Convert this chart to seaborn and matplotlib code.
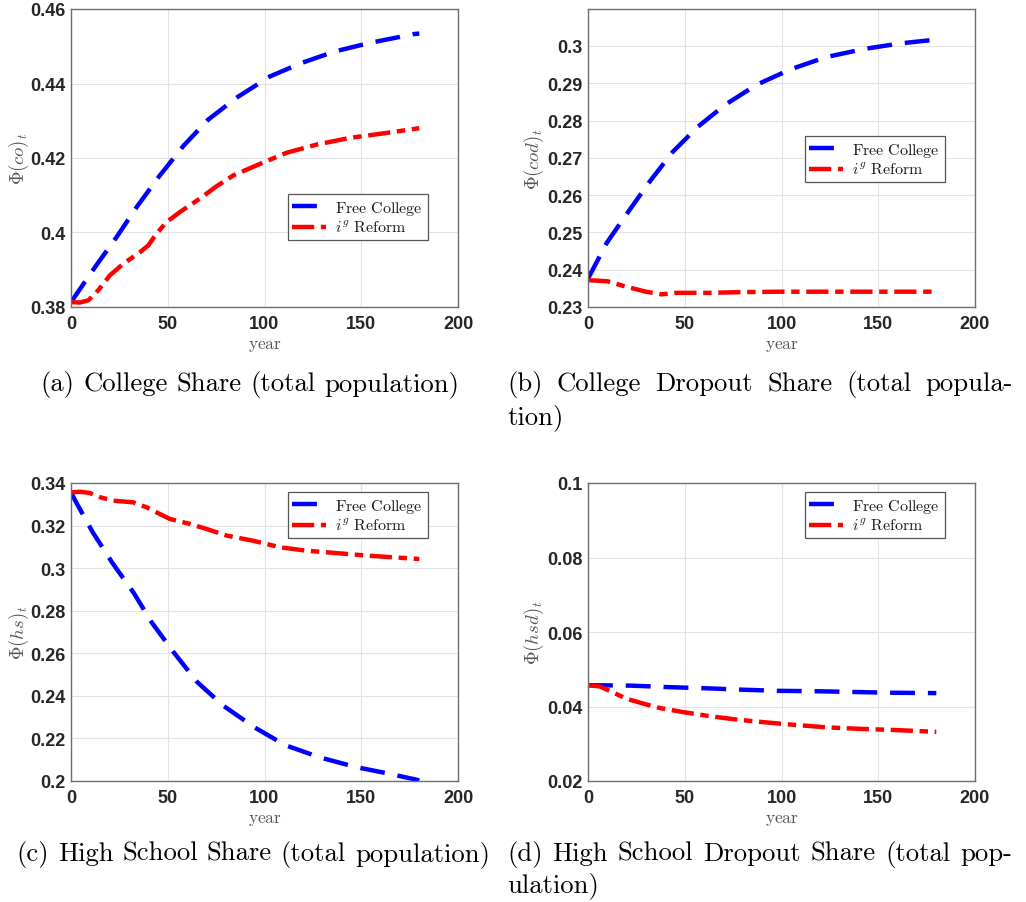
import numpy as np
import pandas as pd
import matplotlib
matplotlib.use("Agg")
import matplotlib.pyplot as plt
import seaborn as sns

# ---------------- data ----------------
# (a) College share
yr_a_fc = [0, 12.4, 23.6, 34.3, 45.6, 58, 70.9, 85.9, 102.8, 119.1, 136.3, 154.4, 177.6, 180]
co_fc = [0.3813, 0.3907, 0.3988, 0.4071, 0.4151, 0.4232, 0.4303, 0.4363, 0.4419, 0.4455, 0.4486, 0.4509, 0.4533, 0.4534]
yr_a_ig = [0, 4.6, 9, 14.1, 20.1, 27, 35.6, 39.9, 44.2, 49.4, 56.3, 66.6, 75.2, 83.8, 97.6, 111.4, 126.9, 144.1, 161.3, 180]
co_ig = [0.3813, 0.3812, 0.3818, 0.3845, 0.3885, 0.3916, 0.3947, 0.3965, 0.3997, 0.4028, 0.4055, 0.4091, 0.4124, 0.4153, 0.4184, 0.4214, 0.4236, 0.4254, 0.4266, 0.4280]

# (b) College dropout share
yr_b_fc = [0, 9.7, 20.5, 31.7, 43.8, 56.7, 71.1, 87.2, 104.5, 123, 142.8, 161.7, 180]
cod_fc = [0.2376, 0.2472, 0.2553, 0.2635, 0.2716, 0.2783, 0.2843, 0.2896, 0.2937, 0.2970, 0.2992, 0.3007, 0.3017]
yr_b_ig = [0, 10, 20, 30, 38, 46, 63, 80, 100, 130, 160, 180]
cod_ig = [0.2372, 0.2369, 0.2354, 0.2341, 0.2334, 0.2338, 0.2338, 0.2340, 0.2341, 0.2341, 0.2341, 0.2341]

# (c) High school share
yr_c_fc = [0, 2.2, 11.2, 21.5, 32.4, 41.7, 53.2, 65.2, 78.8, 95, 110.8, 128.9, 147, 165.6, 180]
hs_fc = [0.3356, 0.3317, 0.3169, 0.3023, 0.2884, 0.2745, 0.2603, 0.2465, 0.2353, 0.2251, 0.2168, 0.2110, 0.2066, 0.2032, 0.2003]
yr_c_ig = [0, 4.6, 9.8, 15, 21.9, 32.2, 39, 44.2, 51.1, 61.4, 70, 80.4, 94, 108, 121.7, 135.5, 152.7, 180]
hs_ig = [0.3356, 0.3359, 0.3353, 0.3333, 0.3317, 0.3309, 0.3286, 0.3262, 0.3231, 0.3208, 0.3184, 0.3153, 0.3129, 0.3098, 0.3082, 0.3072, 0.3059, 0.3043]

# (d) High school dropout share
yr_d_fc = [0, 4.7, 22.4, 41.4, 60.7, 80.2, 99.1, 118.1, 137.1, 155.5, 180]
hsd_fc = [0.0457, 0.0457, 0.0456, 0.0452, 0.0449, 0.0445, 0.0442, 0.0441, 0.0439, 0.0437, 0.0436]
yr_d_ig = [0, 6, 11.2, 19.8, 28.4, 37, 49.1, 62.9, 76.7, 90.5, 106, 123.3, 140.5, 157.8, 180]
hsd_ig = [0.0457, 0.0454, 0.0442, 0.0421, 0.0408, 0.0396, 0.0385, 0.0374, 0.0365, 0.0358, 0.0351, 0.0344, 0.0340, 0.0337, 0.0332]

series_labels = [r"$\mathrm{Free\ College}$", r"$i^g\ \mathrm{Reform}$"]
ylabels = [r"$\Phi(co)_t$", r"$\Phi(cod)_t$", r"$\Phi(hs)_t$", r"$\Phi(hsd)_t$"]
xticks = [0, 50, 100, 150, 200]
xticklabels = ["0", "50", "100", "150", "200"]
yticks_a = [0.38, 0.40, 0.42, 0.44, 0.46]
yticklabels_a = ["0.38", "0.4", "0.42", "0.44", "0.46"]
yticks_b = [0.23, 0.24, 0.25, 0.26, 0.27, 0.28, 0.29, 0.30]
yticklabels_b = ["0.23", "0.24", "0.25", "0.26", "0.27", "0.28", "0.29", "0.3"]
yticks_c = [0.20, 0.22, 0.24, 0.26, 0.28, 0.30, 0.32, 0.34]
yticklabels_c = ["0.2", "0.22", "0.24", "0.26", "0.28", "0.3", "0.32", "0.34"]
yticks_d = [0.02, 0.04, 0.06, 0.08, 0.10]
yticklabels_d = ["0.02", "0.04", "0.06", "0.08", "0.1"]

captions = [
    ["(a)", "College", "Share", "(total", "population)"],
    ["(b)", "College", "Dropout", "Share", "(total", "popula-"],
    ["(c)", "High", "School", "Share", "(total", "population)"],
    ["(d)", "High", "School", "Dropout", "Share", "(total", "pop-"],
]
caption_tails = [None, ["tion)"], None, ["ulation)"]]

# ---------------- style ----------------
sns.set_theme(style="whitegrid")
plt.rcParams["font.family"] = ["Liberation Sans", "DejaVu Sans"]
plt.rcParams["mathtext.fontset"] = "cm"

W, H, DPI = 1026, 903, 100
fig = plt.figure(figsize=(W / DPI, H / DPI), dpi=DPI)
fig.patch.set_facecolor("white")

def ax_rect(left, top, right, bottom):
    return [left / W, 1 - bottom / H, (right - left) / W, (bottom - top) / H]

rects = [ax_rect(71, 10, 458, 308), ax_rect(588, 10, 975, 308),
         ax_rect(71, 484, 458, 782), ax_rect(588, 484, 975, 782)]

panels = [
    (yr_a_fc, co_fc, yr_a_ig, co_ig, (0.38, 0.46), yticks_a, yticklabels_a,
     dict(loc="lower right", bbox_to_anchor=(0.922, 0.225)), -0.135),
    (yr_b_fc, cod_fc, yr_b_ig, cod_ig, (0.23, 0.3099), yticks_b, yticklabels_b,
     dict(loc="upper right", bbox_to_anchor=(0.922, 0.574)), -0.14),
    (yr_c_fc, hs_fc, yr_c_ig, hs_ig, (0.20, 0.34), yticks_c, yticklabels_c,
     dict(loc="upper right", bbox_to_anchor=(0.922, 0.970)), -0.135),
    (yr_d_fc, hsd_fc, yr_d_ig, hsd_ig, (0.02, 0.10), yticks_d, yticklabels_d,
     dict(loc="upper right", bbox_to_anchor=(0.922, 0.970)), -0.14),
]

blue = "#0000ff"
red = "#ff0000"
for i, (xf, yf, xg, yg, ylim, yt, ytl, legkw, ylx) in enumerate(panels):
    ax = fig.add_axes(rects[i])
    ax.set_facecolor("white")
    df_f = pd.DataFrame({"year": xf, "val": yf})
    df_g = pd.DataFrame({"year": xg, "val": yg})
    sns.lineplot(data=df_f, x="year", y="val", ax=ax, color=blue, lw=3.2,
                 linestyle=(0, (5.6, 2.9)), label=series_labels[0])
    sns.lineplot(data=df_g, x="year", y="val", ax=ax, color=red, lw=3.2,
                 linestyle=(0, (5.0, 1.5, 1.9, 1.5)), label=series_labels[1])
    ax.set_xlim(0, 200)
    ax.set_ylim(*ylim)
    ax.set_xticks(xticks, xticklabels)
    ax.set_yticks(yt, ytl)
    ax.grid(True, color="#e3e3e3", lw=0.8)
    for sp in ax.spines.values():
        sp.set_color("#6e6e6e")
        sp.set_linewidth(1.0)
    ax.tick_params(axis="both", direction="in", length=4, width=0.8, color="#6e6e6e",
                   labelsize=13, labelcolor="#262626")
    ax.tick_params(axis="x", pad=6)
    ax.tick_params(axis="y", pad=4)
    for lab in ax.get_xticklabels() + ax.get_yticklabels():
        lab.set_fontweight("bold")
    ax.set_xlabel(r"$\mathrm{year}$", fontsize=12.5, color="#555555")
    ax.xaxis.set_label_coords(0.5, -0.128)
    ax.xaxis.label.set_va("center")
    ax.set_ylabel(ylabels[i], fontsize=13.5, color="#555555")
    ax.yaxis.set_label_coords(ylx, 0.5)
    ax.yaxis.label.set_va("center")
    leg = ax.legend(fontsize=11.5, frameon=True, fancybox=False, framealpha=1,
                    edgecolor="#555555", borderpad=0.3, labelspacing=0.2,
                    handlelength=2.1, handletextpad=0.6, borderaxespad=0, **legkw)
    leg.get_frame().set_linewidth(0.9)
    for t in leg.get_texts():
        t.set_color("#1a1a1a")

# ---------------- captions (word by word, justified like LaTeX) ----------------
renderer = fig.canvas.get_renderer()
CAP_SIZE = 19.2

def place_words(words, y_px, x0=None, x1=None, center=None, gap_px=8.9):
    ts = [fig.text(0, 1 - y_px / H, w, fontfamily="cmr10", fontsize=CAP_SIZE,
                   color="black", ha="left", va="baseline") for w in words]
    widths = [t.get_window_extent(renderer).width for t in ts]
    if x0 is not None and x1 is not None and len(ts) > 1:
        gap = (x1 - x0 - sum(widths)) / (len(ts) - 1)
        start = x0
    else:
        gap = gap_px
        total = sum(widths) + gap * (len(ts) - 1)
        start = center - total / 2 if center is not None else x0
    x = start
    for t, w in zip(ts, widths):
        t.set_x(x / W)
        x += w + gap

place_words(captions[0], 391, center=250)
place_words(captions[1], 391, x0=507, x1=1013)
place_words(caption_tails[1], 424, x0=507)
place_words(captions[2], 861, center=253)
place_words(captions[3], 861, x0=507, x1=1012)
place_words(caption_tails[3], 892, x0=507)

fig.savefig("out.png", dpi=DPI, facecolor="white")
